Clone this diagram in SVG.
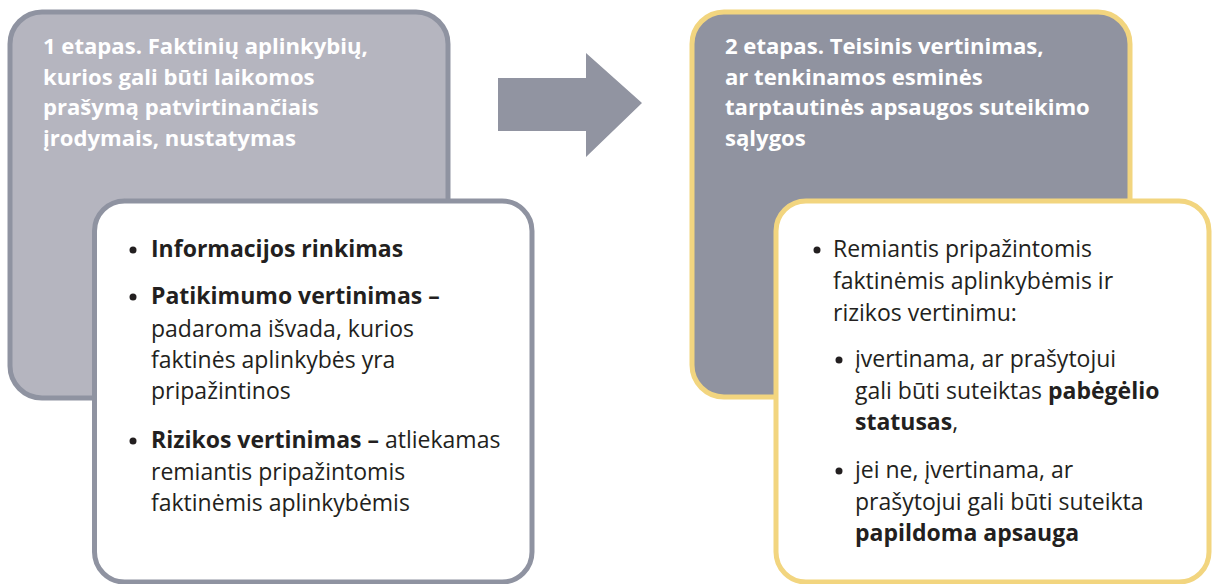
<svg xmlns="http://www.w3.org/2000/svg" width="1212" height="584" viewBox="0 0 1212 584">
  <style>
    .hdr { font-family: "Open Sans", "Noto Sans", sans-serif; font-weight: 700; font-size: 22.1px; fill: #ffffff; }
    .txt { font-family: "Open Sans", "Noto Sans", sans-serif; font-size: 23px; fill: #231f20; }
    .b { font-weight: 700; }
    .dot { fill: #231f20; }
    .grey-outer { fill: #b5b5bf; stroke: #8f93a1; stroke-width: 5; }
    .grey-inner { fill: #ffffff; stroke: #8f93a1; stroke-width: 5; }
    .gold-outer { fill: #9093a0; stroke: #f2d57f; stroke-width: 5; }
    .gold-inner { fill: #ffffff; stroke: #f2d57f; stroke-width: 5; }
  </style>

  <!-- Stage 1: fact finding -->
  <g id="stage1">
    <rect class="grey-outer" x="10" y="12" width="438" height="386" rx="32"/>
    <text class="hdr">
      <tspan x="43" y="54">1 etapas. Faktinių aplinkybių,</tspan>
      <tspan x="43" y="85">kurios gali būti laikomos</tspan>
      <tspan x="43" y="115">prašymą patvirtinančiais</tspan>
      <tspan x="43" y="146">įrodymais, nustatymas</tspan>
    </text>
  </g>

  <g id="stage1-detail">
    <rect class="grey-inner" x="94.5" y="201" width="437.5" height="381" rx="30"/>
    <circle class="dot" cx="133" cy="250" r="3.5"/>
    <circle class="dot" cx="133" cy="297" r="3.5"/>
    <circle class="dot" cx="133" cy="441" r="3.5"/>
    <text class="txt">
      <tspan x="151" y="257" class="b">Informacijos rinkimas</tspan>
      <tspan x="151" y="304" class="b">Patikimumo vertinimas –</tspan>
      <tspan x="151" y="337">padaroma išvada, kurios</tspan>
      <tspan x="151" y="368">faktinės aplinkybės yra</tspan>
      <tspan x="151" y="399">pripažintinos</tspan>
      <tspan x="151" y="448"><tspan class="b">Rizikos vertinimas –</tspan> atliekamas</tspan>
      <tspan x="151" y="480">remiantis pripažintomis</tspan>
      <tspan x="151" y="511">faktinėmis aplinkybėmis</tspan>
    </text>
  </g>

  <!-- Transition between stages -->
  <g id="connectors">
    <polygon fill="#9194a1" points="498,78 586,78 586,53 642,103 586,157 586,131 498,131"/>
  </g>

  <!-- Stage 2: legal assessment -->
  <g id="stage2">
    <rect class="gold-outer" x="692" y="12" width="438" height="385" rx="32"/>
    <text class="hdr">
      <tspan x="725" y="54">2 etapas. Teisinis vertinimas,</tspan>
      <tspan x="725" y="85">ar tenkinamos esminės</tspan>
      <tspan x="725" y="115">tarptautinės apsaugos suteikimo</tspan>
      <tspan x="725" y="146">sąlygos</tspan>
    </text>
  </g>

  <g id="stage2-detail">
    <rect class="gold-inner" x="776" y="201" width="433" height="381" rx="30"/>
    <circle class="dot" cx="817" cy="250" r="3.5"/>
    <circle class="dot" cx="839" cy="360" r="3.5"/>
    <circle class="dot" cx="839" cy="471" r="3.5"/>
    <text class="txt">
      <tspan x="833" y="257">Remiantis pripažintomis</tspan>
      <tspan x="833" y="289">faktinėmis aplinkybėmis ir</tspan>
      <tspan x="833" y="321">rizikos vertinimu:</tspan>
      <tspan x="855" y="367">įvertinama, ar prašytojui</tspan>
      <tspan x="855" y="399">gali būti suteiktas <tspan class="b">pabėgėlio</tspan></tspan>
      <tspan x="855" y="430"><tspan class="b">statusas</tspan>,</tspan>
      <tspan x="855" y="478">jei ne, įvertinama, ar</tspan>
      <tspan x="855" y="510">prašytojui gali būti suteikta</tspan>
      <tspan x="855" y="541" class="b">papildoma apsauga</tspan>
    </text>
  </g>
</svg>
